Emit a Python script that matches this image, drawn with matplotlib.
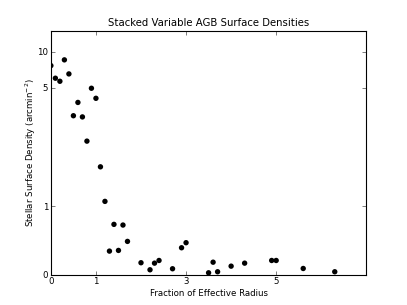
import numpy as np
import matplotlib
matplotlib.use('Agg')
import matplotlib.pyplot as plt

# radial bins (fraction of effective radius) and stacked densities
radius = [0.0, 0.1, 0.2, 0.3, 0.4, 0.5, 0.6, 0.7, 0.8, 0.9, 1.0, 1.1, 1.2,
          1.3, 1.4, 1.5, 1.6, 1.7, 2.0, 2.2, 2.3, 2.4, 2.7, 2.9, 3.0,
          3.5, 3.6, 3.7, 4.0, 4.3, 4.9, 5.0, 5.6, 6.3]
density = [8.07, 6.34, 5.92, 8.86, 6.93, 4.06, 4.51, 4.02, 3.20, 4.99, 4.65,
           2.33, 1.16, 0.342, 0.733, 0.352, 0.723, 0.484, 0.172, 0.069, 0.166,
           0.205, 0.084, 0.391, 0.465, 0.025, 0.180, 0.040, 0.122, 0.166,
           0.205, 0.205, 0.088, 0.040]

xticks = [0, 1, 3, 5]
yticks = [0, 1, 5, 10]

# stretched density axis, anchored on the tick marks
scale_vals = np.array([0.0, 1.0, 5.0, 10.0, 15.0])
scale_pos = np.array([0.0, 68.2, 186.0, 222.3, 258.6])


def forward(v):
    return np.interp(v, scale_vals, scale_pos)


def inverse(p):
    return np.interp(p, scale_pos, scale_vals)


fig = plt.figure(figsize=(4.07, 3.05), dpi=100, facecolor='white')
ax = fig.add_axes([0.125, 0.1, 0.775, 0.8])
ax.scatter(radius, density, s=15, c='black', edgecolors='none', zorder=3)

ax.set_yscale('function', functions=(forward, inverse))
ax.set_xlim(0, 7)
ax.set_ylim(0, inverse(243.3))
ax.set_xticks(xticks)
ax.set_yticks(yticks)
ax.set_xticklabels([str(t) for t in xticks])
ax.set_yticklabels([str(t) for t in yticks])
ax.minorticks_off()
ax.tick_params(direction='in', top=True, right=True, length=3, width=0.6,
               labelsize=6.2, pad=2, color='0.4')
for sp in ax.spines.values():
    sp.set_linewidth(0.8)

ax.set_title('Stacked Variable AGB Surface Densities', fontsize=7.3, pad=3)
ax.set_xlabel('Fraction of Effective Radius', fontsize=6.2, labelpad=2)
ax.set_ylabel('Stellar Surface Density (arcmin$^{-2}$)', fontsize=6.2, labelpad=-0.5)

fig.savefig('out.png', dpi=100, facecolor='white')
